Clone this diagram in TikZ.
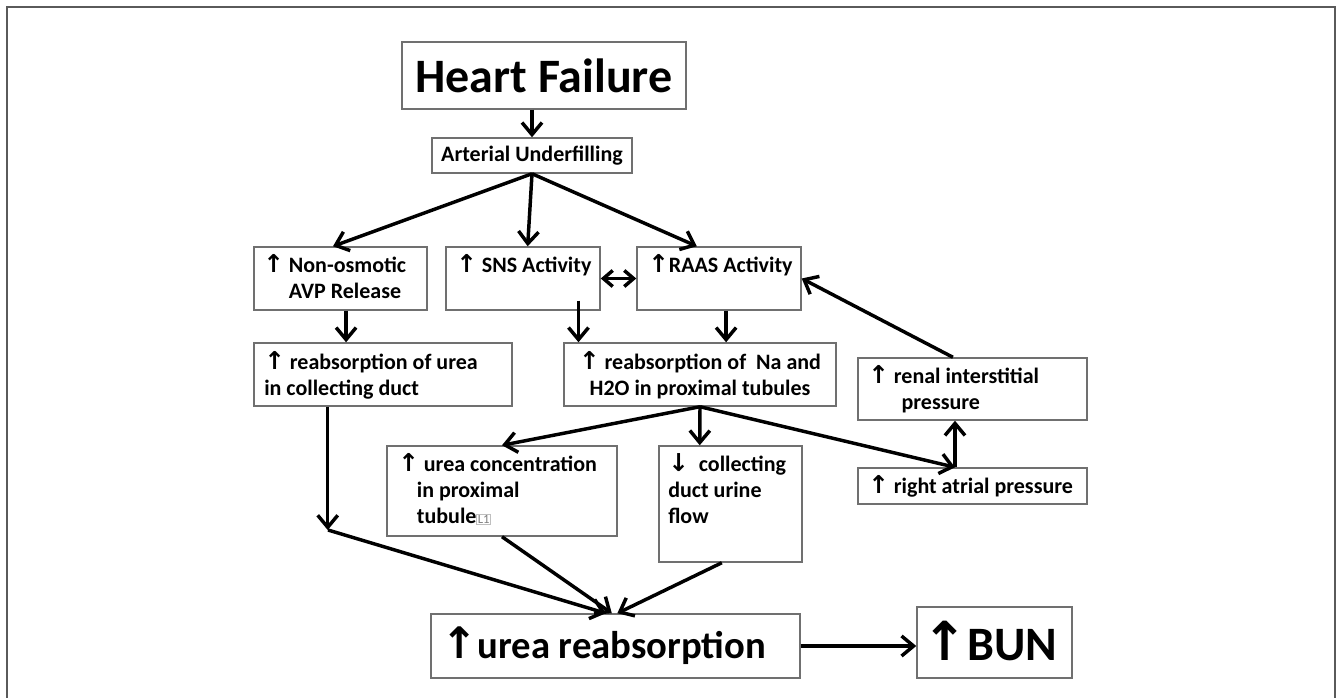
\documentclass[tikz,border=0pt]{standalone}
\usepackage{fontspec}
\usepackage{xcolor}
\setmainfont{Carlito}
\newfontfamily\arrowfont{DejaVu Sans}[Scale=1.12]
\usetikzlibrary{arrows.meta,fit,calc}
\definecolor{boxgray}{HTML}{707070}
\definecolor{framegray}{HTML}{5A5A5A}
\newcommand\upa{{\arrowfont ↑}}
\newcommand\dna{{\arrowfont ↓}}
\newcommand\smallfont{\fontsize{16.5}{19.5}\selectfont\bfseries}
\newcommand\lonecomment{{\setlength\fboxsep{0.6pt}\setlength\fboxrule{0.4pt}\fcolorbox{lightgray}{white}{\fontsize{9.5}{9.5}\selectfont\mdseries\textcolor{gray}{L1}}}}
\begin{document}
\begin{tikzpicture}[x=0.75pt,y=-0.75pt,
  box/.style={draw=boxgray, line width=1.1pt, inner sep=0pt},
  txt/.style={anchor=base west, inner sep=0pt, align=left, font=\smallfont},
  arr/.style={line width=2.6pt, -{Straight Barb[length=9pt,width=15pt]}},
  dbl/.style={line width=2.6pt, {Straight Barb[length=7pt,width=12pt]}-{Straight Barb[length=7pt,width=12pt]}}]
\useasboundingbox (0,0) rectangle (1341,698);
\draw[framegray, line width=1.5pt] (7,700) -- (7,7.5) -- (1335,7.5) -- (1335,700);

% boxes
\node[box, fit={(402,42) (686,109)}] (hf) {};
\node[box, fit={(432,138) (632,173)}] (au) {};
\node[box, fit={(254,247) (427,310)}] (nonosm) {};
\node[box, fit={(446,247) (600,310)}] (sns) {};
\node[box, fit={(637,247) (801,310)}] (raas) {};
\node[box, fit={(254,343) (512,406)}] (reabsurea) {};
\node[box, fit={(564,343) (836,406)}] (na) {};
\node[box, fit={(858,358) (1087,420)}] (renal) {};
\node[box, fit={(858,468) (1087,504)}] (atrial) {};
\node[box, fit={(387,446) (617,536)}] (ureaconc) {};
\node[box, fit={(659,446) (802,562)}] (coll) {};
\node[box, fit={(431,614) (800,678)}] (urea) {};
\node[box, fit={(917,607) (1072,678)}] (bun) {};

% texts (multi-line nodes: base anchor is the last line's baseline)
\node[inner sep=0pt, font=\fontsize{36}{36}\selectfont\bfseries] (hft) at (hf.center) {Heart Failure};
\node[inner sep=0pt, font=\smallfont] (aut) at (au.center) {Arterial Underfilling};
\node[txt] (nonosmt) at (263,299) {\upa\ Non-osmotic\\\phantom{\upa\ }AVP Release};
\node[txt] (snst) at (456,273) {\upa\ SNS Activity};
\node[txt] (raast) at (648,273) {\upa RAAS Activity};
\node[txt] (reabsureat) at (264,395) {\upa\ reabsorption of urea\\in collecting duct};
\node[anchor=base, inner sep=0pt, align=center, font=\smallfont] (nat) at (700,395) {\upa\ reabsorption of\ \ Na and\\H2O in proximal tubules};
\node[txt] (renalt) at (868,409) {\upa\ renal interstitial\\\hspace*{25pt}pressure};
\node[txt] (atrialt) at (868,493) {\upa\ right atrial pressure};
\node[txt] (ureaconct) at (398,523) {\upa\ urea concentration\\\hspace*{14pt}in proximal\\\hspace*{14pt}tubule\lonecomment};
\node[txt] (collt) at (668,523) {\dna\ \ collecting\\duct urine\\flow};
\node[anchor=base west, inner sep=0pt, font=\fontsize{29}{29}\selectfont\bfseries] (ureat) at (441,658) {\upa urea reabsorption};
\node[anchor=base west, inner sep=0pt, font=\fontsize{36}{36}\selectfont\bfseries] (bunt) at (922,660) {\upa BUN};

% connectors
\draw[arr] (au.north |- hf.south) -- (au.north);
\draw[arr] (au.south) -- ($(nonosm.north west)!0.457!(nonosm.north east)$);
\draw[arr] (au.south) -- ($(sns.north west)!0.53!(sns.north east)$);
\draw[arr] (au.south) -- ($(raas.north west)!0.366!(raas.north east)$);
\coordinate (a1) at ($(nonosm.south west)!0.532!(nonosm.south east)$);
\draw[arr] (a1) -- (a1 |- reabsurea.north);
\coordinate (a2) at ($(sns.south west)!0.857!(sns.south east)$);
\draw[arr] ([yshift=7.5pt]a2) -- (a2 |- na.north);
\coordinate (a3) at ($(raas.south west)!0.543!(raas.south east)$);
\draw[arr] (a3) -- (a3 |- na.north);
\draw[dbl] (sns.east) -- (sns.east -| raas.west);
\draw[arr] ($(renal.north west)!0.415!(renal.north east)$) -- (raas.east);
\coordinate (a4) at ($(reabsurea.south west)!0.287!(reabsurea.south east)$);
\coordinate (J) at (328,530);
\draw[arr] (a4) -- (a4 |- J);
\draw[arr] (J) -- ($(urea.north west)!0.474!(urea.north east)$);
\draw[arr] (ureaconc.south) -- ($(urea.north west)!0.49!(urea.north east)$);
\draw[arr] ($(coll.south west)!0.44!(coll.south east)$) -- ($(urea.north west)!0.505!(urea.north east)$);
\draw[arr] (na.south) -- (ureaconc.north);
\draw[arr] (na.south) -- ($(coll.north west)!0.287!(coll.north east)$);
\coordinate (a5) at ($(atrial.north west)!0.424!(atrial.north east)$);
\draw[arr] (na.south) -- (a5);
\draw[arr] (a5) -- (a5 |- renal.south);
\draw[arr] (urea.east) -- (urea.east -| bun.west);
\end{tikzpicture}
\end{document}
